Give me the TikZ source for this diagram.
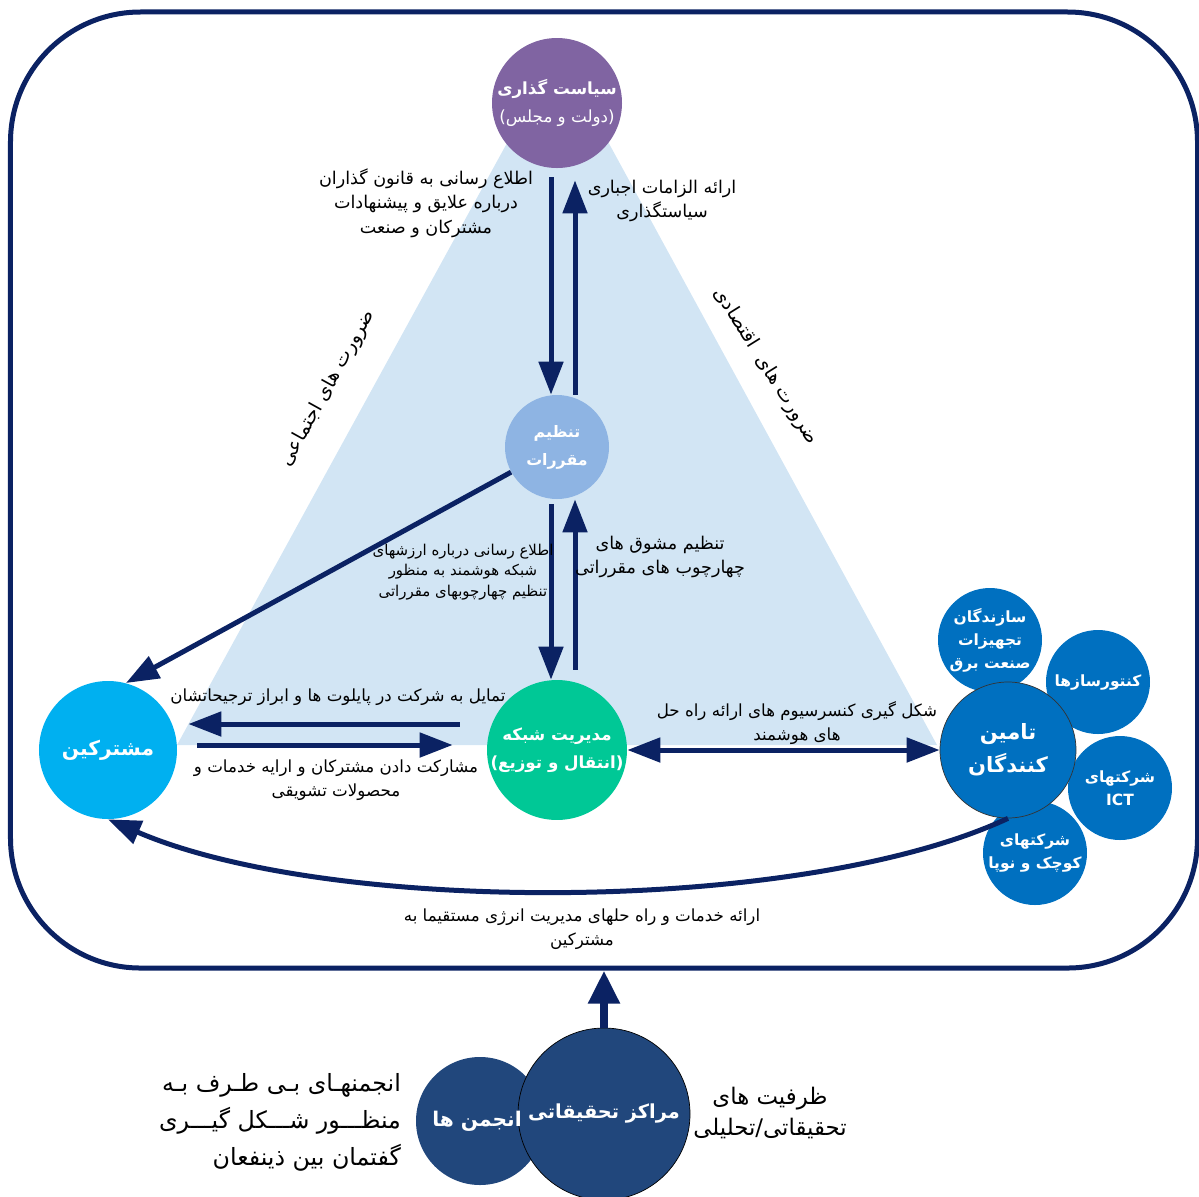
\documentclass[tikz,border=0pt]{standalone}
\usepackage{fontspec}
\newfontfamily\fa[Script=Arabic]{DejaVu Sans}
\TeXXeTstate=1
\usetikzlibrary{arrows.meta}
\newcommand{\rl}[1]{\beginR #1\endR}
\definecolor{navy}{HTML}{0B2263}
\definecolor{tri}{HTML}{D2E5F4}
\definecolor{polc}{HTML}{8064A2}
\definecolor{regc}{HTML}{8EB4E3}
\definecolor{gridc}{HTML}{00C896}
\definecolor{custc}{HTML}{00B0F0}
\definecolor{supc}{HTML}{0070C0}
\definecolor{resc}{HTML}{21477C}

\begin{document}
\begin{tikzpicture}[x=0.2mm, y=-0.2mm,
  main/.style={circle, inner sep=0pt, align=center, text=white, font={\fa\bfseries\fontsize{9.5}{16}\selectfont}},
  small/.style={main, fill=supc, minimum size=20.8mm, font={\fa\bfseries\fontsize{8.8}{13}\selectfont}},
  txt/.style={align=center, inner sep=0pt, font={\fa\fontsize{9.5}{14}\selectfont}},
  ar/.style={-{Triangle[length=6.6mm,width=4.8mm]}, line width=1mm, draw=navy},
  ar2/.style={{Triangle[length=6.6mm,width=4.8mm]}-{Triangle[length=6.6mm,width=4.8mm]}, line width=1mm, draw=navy}]
  \useasboundingbox (0,0) rectangle (1199,1196);
  \node[draw=navy, line width=1mm, rounded corners=26mm, minimum width=237.4mm, minimum height=191.2mm] (frame) at (604,490) {};
  \fill[tri] (558,50) -- (177,745) -- (937,745) -- cycle;

  \node[main, fill=polc, minimum size=26mm] (pol) at (557,103) {\rl{سیاست گذاری}\\ \rl{\mdseries (دولت و مجلس)}};
  \node[main, fill=regc, minimum size=20.8mm, font={\fa\bfseries\fontsize{9}{16}\selectfont}] (reg) at (557,447) {\rl{تنظیم}\\ \rl{مقررات}};
  \node[main, fill=gridc, minimum size=27.2mm] (grid) at (557,750) {\rl{مدیریت شبکه}\\ \rl{(انتقال و توزیع)}};
  \node[main, fill=custc, minimum size=27.6mm, font={\fa\bfseries\fontsize{11.5}{18}\selectfont}] (cust) at (108,750) {\rl{مشترکین}};
  \node[small] (m1) at (990,640) {\rl{سازندگان}\\ \rl{تجهیزات}\\ \rl{صنعت برق}};
  \node[small] (m2) at (1098,682) {\rl{کنتورسازها}};
  \node[small] (m3) at (1120,788) {\rl{شرکتهای}\\ ICT};
  \node[small] (m4) at (1035,853) {\rl{شرکتهای}\\ \rl{کوچک و نوپا}};
  \node[main, fill=supc, draw=black!80, minimum size=27.2mm, font={\fa\bfseries\fontsize{12}{19}\selectfont}] (sup) at (1008,750) {\rl{تامین}\\ \rl{کنندگان}};
  \node[main, fill=resc, minimum size=25.6mm] (anj) at (480,1121) {};
  \node[main, fill=resc, draw=black, minimum size=34.4mm, font={\fa\bfseries\fontsize{11}{17}\selectfont}] (res) at (604,1114) {\rl{مراکز تحقیقاتی}};
  \node[main, font={\fa\bfseries\fontsize{11.5}{17}\selectfont}] (anjt) at (477,1121) {\rl{انجمن ها}};

  \draw[ar, shorten <=1.8mm] ([xshift=-1.2mm]pol.south) -- ([xshift=-1.2mm]reg.north);
  \draw[ar, shorten >=2.4mm] ([xshift=3.6mm]reg.north) -- ([xshift=3.6mm]pol.south);
  \draw[ar, shorten <=1mm] ([xshift=-1.2mm]reg.south) -- ([xshift=-1.2mm]grid.north);
  \draw[ar, shorten <=2mm] ([xshift=3.6mm]grid.north) -- ([xshift=3.6mm]reg.south);
  \draw[ar] (reg) -- (cust.75);
  \draw[ar, shorten <=5.4mm, shorten >=2.2mm] ([yshift=5.2mm]grid.west) -- ([yshift=5.2mm]cust.east);
  \draw[ar, shorten <=4mm, shorten >=6.8mm] ([yshift=1mm]cust.east) -- ([yshift=1mm]grid.west);
  \draw[ar2] (grid) -- (sup);
  \draw[ar] (sup.south) .. controls (800,915) and (330,915) .. (cust.south);
  \draw[ar, line width=1.6mm, -{Triangle[length=6.6mm,width=6mm]}] (res.north) -- (res.north |- frame.south);

  \node[txt, font={\fa\fontsize{10}{14}\selectfont}] (t1) at (426,203) {\rl{اطلاع رسانی به قانون گذاران}\\ \rl{درباره علایق و پیشنهادات}\\ \rl{مشترکان و صنعت}};
  \node[txt, font={\fa\fontsize{10}{14}\selectfont}] (t2) at (662,201) {\rl{ارائه الزامات اجباری}\\ \rl{سیاستگذاری}};
  \node[txt, rotate=61, font={\fa\fontsize{11}{14}\selectfont}] (t3) at (328,388) {\rl{ضرورت های اجتماعی}};
  \node[txt, rotate=-58, font={\fa\fontsize{11}{14}\selectfont}] (t4) at (766,366) {\rl{ضرورت های\ \ اقتصادی}};
  \node[txt, font={\fa\fontsize{8.5}{11.5}\selectfont}] (t5) at (463,572) {\rl{اطلاع رسانی درباره ارزشهای}\\ \rl{شبکه هوشمند به منظور}\\ \rl{تنظیم چهارچوبهای مقرراتی}};
  \node[txt, font={\fa\fontsize{10}{14}\selectfont}] (t6) at (660,557) {\rl{تنظیم مشوق های}\\ \rl{چهارچوب های مقرراتی}};
  \node[txt] (t7) at (338,697) {\rl{تمایل به شرکت در پایلوت ها و ابراز ترجیحاتشان}};
  \node[txt] (t8) at (336,780) {\rl{مشارکت دادن مشترکان و ارایه خدمات و}\\ \rl{محصولات تشویقی}};
  \node[txt] (t9) at (797,723) {\rl{شکل گیری کنسرسیوم های ارائه راه حل}\\ \rl{های هوشمند}};
  \node[txt] (t10) at (582,929) {\rl{ارائه خدمات و راه حلهای مدیریت انرژی مستقیما به}\\ \rl{مشترکین}};
  \node[txt, align=right, font={\fa\fontsize{13.5}{21}\selectfont}] (t11) at (280,1122) {\rl{انجمنهـای بـی طـرف بـه}\\ \rl{منظـــور شـــکل گیـــری}\\ \rl{گفتمان بین ذینفعان}};
  \node[txt, font={\fa\fontsize{13}{18}\selectfont}] (t12) at (770,1113) {\rl{ظرفیت های}\\ \rl{تحقیقاتی/تحلیلی}};
\end{tikzpicture}
\end{document}
